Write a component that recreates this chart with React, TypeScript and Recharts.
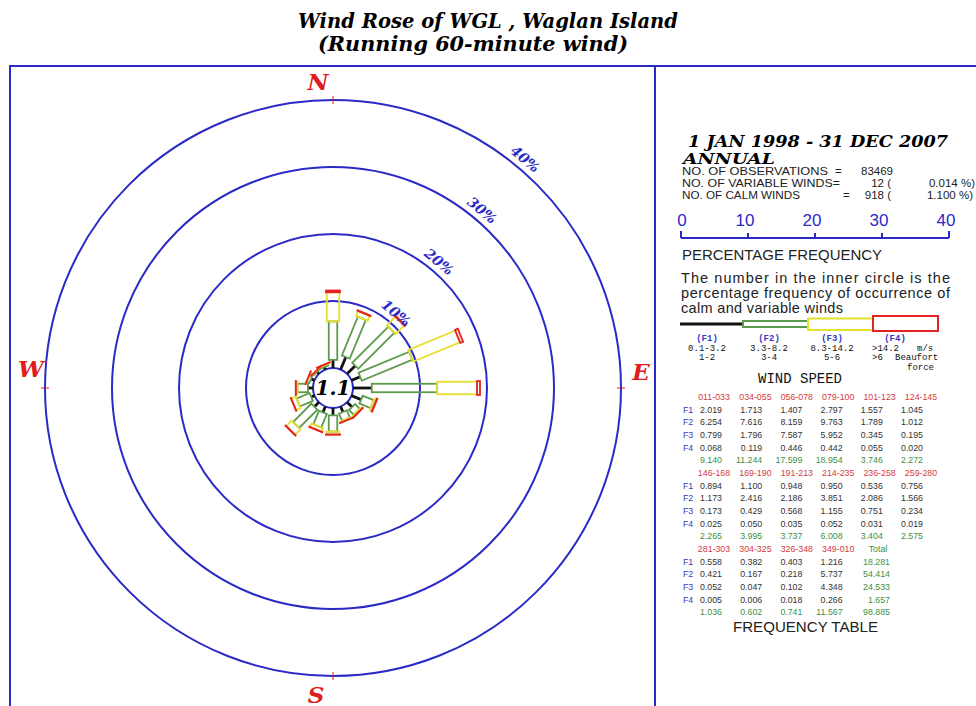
import {
  PolarAngleAxis,
  PolarGrid,
  PolarRadiusAxis,
  RadialBar,
  RadialBarChart,
} from "recharts"

// sectors in the order of the frequency table (degrees)
const sectors = [
  "011-033", "034-055", "056-078", "079-100", "101-123", "124-145",
  "146-168", "169-190", "191-213", "214-235", "236-258", "259-280",
  "281-303", "304-325", "326-348", "349-010",
]
const f1 = [2.019, 1.713, 1.407, 2.797, 1.557, 1.045, 0.894, 1.1, 0.948, 0.95, 0.536, 0.756, 0.558, 0.382, 0.403, 1.216]
const f2 = [6.254, 7.616, 8.159, 9.763, 1.789, 1.012, 1.173, 2.416, 2.186, 3.851, 2.086, 1.566, 0.421, 0.167, 0.218, 5.737]
const f3 = [0.799, 1.796, 7.587, 5.952, 0.345, 0.195, 0.173, 0.429, 0.568, 1.155, 0.751, 0.234, 0.052, 0.047, 0.102, 4.348]
const f4 = [0.068, 0.119, 0.446, 0.442, 0.055, 0.02, 0.025, 0.05, 0.035, 0.052, 0.031, 0.019, 0.005, 0.006, 0.018, 0.266]
const sectorTotals = [9.14, 11.244, 17.599, 18.954, 3.746, 2.272, 2.265, 3.995, 3.737, 6.008, 3.404, 2.575, 1.036, 0.602, 0.741, 11.567]
const speedTotals = [18.281, 54.414, 24.533, 1.657]
const grandTotal = 98.885
const calmPct = 1.1

const compassLabels: Record<string, string> = {
  "349-010": "N",
  "079-100": "E",
  "169-190": "S",
  "259-280": "W",
}
const scaleTicks = [0, 10, 20, 30, 40]
const speedClasses = [
  { code: "(F1)", ms: "0.1-3.2", bf: "1-2" },
  { code: "(F2)", ms: "3.3-8.2", bf: "3-4" },
  { code: "(F3)", ms: "8.3-14.2", bf: "5-6" },
  { code: "(F4)", ms: ">14.2", bf: ">6" },
]

const roseData = sectors.map((s, i) => ({ sector: s, f1: f1[i], f2: f2[i], f3: f3[i], f4: f4[i] }))

const CX = 333
const CY = 388
const R0 = 20
const R = 288
const PX_PER_PCT = (R - R0) / 40
const HALF_BAND = 360 / sectors.length / 2
// first sector (011-033) is centred 22.5 deg clockwise of north
const START_ANGLE = 90 - 2 * HALF_BAND - HALF_BAND

const BLUE = "#2a2ac6"
const RED = "#e01c1c"
const SERIF = "'DejaVu Serif', serif"
const SANS = "'Liberation Sans', Arial, sans-serif"
const MONO = "'Liberation Mono', monospace"

const segStyle: Record<string, { color: string; w: number }> = {
  f2: { color: "#5c9a4c", w: 8.5 },
  f3: { color: "#e4e02c", w: 12.5 },
  f4: { color: "#e52222", w: 14 },
}

const RoseSegment = (props: any) => {
  const { cx, cy, innerRadius, outerRadius, startAngle, endAngle, kind } = props
  const mid = (startAngle + endAngle) / 2
  const len = outerRadius - innerRadius
  if (!(len > 0)) return <g />
  if (kind === "f1") {
    return (
      <g transform={`rotate(${-mid} ${cx} ${cy})`}>
        <line x1={cx + innerRadius} y1={cy} x2={cx + outerRadius} y2={cy} stroke="#111" strokeWidth={2.8} />
      </g>
    )
  }
  const st = segStyle[kind]
  return (
    <g transform={`rotate(${-mid} ${cx} ${cy})`}>
      <rect x={cx + innerRadius} y={cy - st.w / 2} width={len} height={st.w} fill="none" stroke={st.color} strokeWidth={1.8} />
    </g>
  )
}

const letterOffset: Record<string, [number, number]> = {
  N: [-15, 10],
  E: [0, -8],
  W: [6, -11],
  S: [-17, 7],
}

const CompassTick = (props: any) => {
  const { payload } = props
  const label = compassLabels[payload?.value]
  if (!label) return <g />
  // ticks sit on the band edge; move them to the sector centre
  const a = ((payload.coordinate + HALF_BAND) * Math.PI) / 180
  const c = Math.cos(a)
  const s = Math.sin(a)
  const [dx, dy] = letterOffset[label]
  return (
    <g>
      <line x1={CX + (R - 4) * c} y1={CY - (R - 4) * s} x2={CX + (R + 4) * c} y2={CY - (R + 4) * s} stroke={RED} strokeWidth={1} />
      <text
        x={CX + (R + 20) * c + dx}
        y={CY - (R + 20) * s + dy}
        textAnchor="middle"
        fontFamily={SERIF}
        fontWeight="bold"
        fontStyle="italic"
        fontSize={23}
        fill={RED}
      >
        {label}
      </text>
    </g>
  )
}

const RADIUS_ANGLE = 50

const PctTick = (props: any) => {
  const { x, y, payload } = props
  if (!payload || payload.value === 0) return <g />
  const a = (RADIUS_ANGLE * Math.PI) / 180
  const tx = x + 11 * Math.cos(a)
  const ty = y - 11 * Math.sin(a)
  return (
    <text
      x={tx}
      y={ty}
      textAnchor="middle"
      dominantBaseline="central"
      transform={`rotate(${90 - RADIUS_ANGLE} ${tx} ${ty})`}
      fontFamily={SERIF}
      fontWeight="bold"
      fontStyle="italic"
      fontSize={14}
      fill={BLUE}
    >
      {`${payload.value}%`}
    </text>
  )
}

const rowY = (i: number) => 400 + 12.67 * i
const headX = (j: number) => 714 + 41.4 * j
const numX = (j: number) => 722 + 40.2 * j

const FrequencyTable = () => {
  const rows: any[] = []
  const blocks = [0, 6, 12]
  blocks.forEach((start, b) => {
    const cols = sectors.slice(start, start + 6)
    const base = b * 6
    cols.forEach((s, j) => {
      const k = start + j
      rows.push(
        <text key={`h${k}`} x={headX(j)} y={rowY(base)} textAnchor="middle" fill="#d63a40">{s}</text>,
        ...[f1, f2, f3, f4].map((arr, r) => (
          <text key={`v${k}-${r}`} x={numX(j)} y={rowY(base + 1 + r)} textAnchor="end" fill="#333">{arr[k].toFixed(3)}</text>
        )),
        <text key={`t${k}`} x={numX(j)} y={rowY(base + 5)} textAnchor="end" fill="#3f8f3f">{sectorTotals[k].toFixed(3)}</text>,
      )
    })
    ;["F1", "F2", "F3", "F4"].map((f, r) =>
      rows.push(<text key={`f${b}${r}`} x={683} y={rowY(base + 1 + r)} fill="#3838c0">{f}</text>),
    )
  })
  // total column of the last block
  rows.push(<text key="tot" x={878} y={rowY(12)} textAnchor="middle" fill="#3f8f3f">Total</text>)
  speedTotals.forEach((v, r) =>
    rows.push(<text key={`st${r}`} x={890} y={rowY(13 + r)} textAnchor="end" fill="#3f8f3f">{v.toFixed(3)}</text>),
  )
  rows.push(<text key="gt" x={890} y={rowY(17)} textAnchor="end" fill="#3f8f3f">{grandTotal.toFixed(3)}</text>)
  return <g fontFamily={SANS} fontSize={8.8}>{rows}</g>
}

const SidePanel = () => {
  const x0 = 681
  return (
    <g>
      <text x={688} y={147} textLength={260} lengthAdjust="spacingAndGlyphs" fontFamily={SERIF} fontWeight="bold" fontStyle="italic" fontSize={17}>
        1 JAN 1998 - 31 DEC 2007
      </text>
      <text x={683} y={164} textLength={92} lengthAdjust="spacingAndGlyphs" fontFamily={SERIF} fontWeight="bold" fontStyle="italic" fontSize={15}>
        ANNUAL
      </text>
      <g fontFamily={SANS} fontSize={11.5} fill="#222">
        <text x={682} y={175} textLength={146} lengthAdjust="spacingAndGlyphs">NO. OF OBSERVATIONS</text>
        <text x={835} y={175}>=</text>
        <text x={893} y={175} textAnchor="end">83469</text>
        <text x={682} y={187} textLength={158} lengthAdjust="spacingAndGlyphs">NO. OF VARIABLE WINDS=</text>
        <text x={891} y={187} textAnchor="end">12 (</text>
        <text x={975} y={187} textAnchor="end">0.014 %)</text>
        <text x={682} y={199} textLength={118} lengthAdjust="spacingAndGlyphs">NO. OF CALM WINDS</text>
        <text x={843} y={199}>=</text>
        <text x={891} y={199} textAnchor="end">918 (</text>
        <text x={973} y={199} textAnchor="end">1.100 %)</text>
      </g>
      <g fontFamily={SANS} fontSize={17} fill={BLUE}>
        {scaleTicks.map((v) => (
          <text key={v} x={x0 + v * PX_PER_PCT + (v === 0 ? 1 : -3)} y={226} textAnchor="middle">{v}</text>
        ))}
      </g>
      <line x1={x0} y1={238} x2={x0 + 40 * PX_PER_PCT} y2={238} stroke={BLUE} strokeWidth={2} />
      {scaleTicks.map((v) => (
        <line
          key={v}
          x1={x0 + v * PX_PER_PCT}
          y1={238}
          x2={x0 + v * PX_PER_PCT}
          y2={v === 0 || v === 40 ? 231 : 233}
          stroke={BLUE}
          strokeWidth={2}
        />
      ))}
      <g fontFamily={SANS} fill="#222">
        <text x={682} y={260} fontSize={14} textLength={200} lengthAdjust="spacingAndGlyphs">PERCENTAGE   FREQUENCY</text>
        <text x={681} y={283} fontSize={14.5} textLength={269} lengthAdjust="spacing">The number in the inner circle is the</text>
        <text x={681} y={298} fontSize={14.5} textLength={269} lengthAdjust="spacing">percentage frequency of occurrence of</text>
        <text x={681} y={313} fontSize={14.5} textLength={162} lengthAdjust="spacing">calm and variable winds</text>
      </g>
      <line x1={680} y1={324} x2={743} y2={324} stroke="#111" strokeWidth={3} />
      <rect x={743} y={321} width={65} height={6} fill="none" stroke="#5c9a4c" strokeWidth={2} />
      <rect x={808} y={318.5} width={65} height={11.5} fill="none" stroke="#e4e02c" strokeWidth={2} />
      <rect x={873} y={316} width={65} height={15} fill="none" stroke="#e52222" strokeWidth={2} />
      <g fontFamily={MONO} fontSize={9}>
        {speedClasses.map((c, i) => {
          const cx = [707, 769, 832, 895][i]
          return (
            <g key={c.code}>
              <text x={cx} y={341} textAnchor="middle" fill="#3838c0" fontWeight="bold">{c.code}</text>
              <text x={i === 3 ? 872 : cx} y={351} textAnchor={i === 3 ? "start" : "middle"} fill="#111">{c.ms}</text>
              <text x={i === 3 ? 872 : cx} y={360} textAnchor={i === 3 ? "start" : "middle"} fill="#111">{c.bf}</text>
            </g>
          )
        })}
        <text x={917} y={351} fill="#111">m/s</text>
        <text x={895} y={360} fill="#111">Beaufort</text>
        <text x={907} y={370} fill="#111">force</text>
      </g>
      <text x={758} y={383} fontFamily={MONO} fontSize={14} fill="#111">WIND SPEED</text>
      <FrequencyTable />
      <text x={733} y={632} fontFamily={SANS} fontSize={15} fill="#222" textLength={145} lengthAdjust="spacingAndGlyphs">
        FREQUENCY   TABLE
      </text>
    </g>
  )
}

const App = () => {
  return (
    <div style={{ position: "absolute", left: 0, top: 0, width: 976, height: 706, background: "#fff", overflow: "hidden" }}>
      <svg width={976} height={706} style={{ position: "absolute", left: 0, top: 0 }}>
        <text x={298} y={28} textLength={380} lengthAdjust="spacingAndGlyphs" fontFamily={SERIF} fontWeight="bold" fontStyle="italic" fontSize={20}>
          Wind Rose of WGL , Waglan Island
        </text>
        <text x={318} y={51} textLength={310} lengthAdjust="spacingAndGlyphs" fontFamily={SERIF} fontWeight="bold" fontStyle="italic" fontSize={20}>
          (Running 60-minute wind)
        </text>
        <rect x={10} y={66} width={1000} height={700} fill="none" stroke={BLUE} strokeWidth={2} />
        <line x1={655} y1={66} x2={655} y2={706} stroke={BLUE} strokeWidth={2} />
        <SidePanel />
        <text x={CX} y={CY} textAnchor="middle" dominantBaseline="central" fontFamily={SERIF} fontWeight="bold" fontStyle="italic" fontSize={20}>
          {calmPct.toFixed(1)}
        </text>
      </svg>
      <div style={{ position: "absolute", left: 0, top: 0 }}>
        <RadialBarChart
          width={976}
          height={706}
          data={roseData}
          cx={CX}
          cy={CY}
          innerRadius={R0}
          outerRadius={R}
          startAngle={START_ANGLE}
          endAngle={START_ANGLE - 360}
          layout="centric"
          margin={{ top: 0, right: 0, bottom: 0, left: 0 }}
        >
          <PolarGrid gridType="circle" radialLines={false} stroke={BLUE} strokeWidth={2} />
          <PolarAngleAxis type="category" dataKey="sector" axisLine={false} tickLine={false} tick={(p: any) => <CompassTick {...p} />} />
          <PolarRadiusAxis
            type="number"
            domain={[0, 40]}
            tickCount={5}
            angle={RADIUS_ANGLE}
            axisLine={false}
            tickLine={false}
            tick={(p: any) => <PctTick {...p} />}
          />
          <RadialBar dataKey="f1" stackId="s" isAnimationActive={false} shape={(p: any) => <RoseSegment {...p} kind="f1" />} />
          <RadialBar dataKey="f2" stackId="s" isAnimationActive={false} shape={(p: any) => <RoseSegment {...p} kind="f2" />} />
          <RadialBar dataKey="f3" stackId="s" isAnimationActive={false} shape={(p: any) => <RoseSegment {...p} kind="f3" />} />
          <RadialBar dataKey="f4" stackId="s" isAnimationActive={false} shape={(p: any) => <RoseSegment {...p} kind="f4" />} />
        </RadialBarChart>
      </div>
    </div>
  )
}

export default App
